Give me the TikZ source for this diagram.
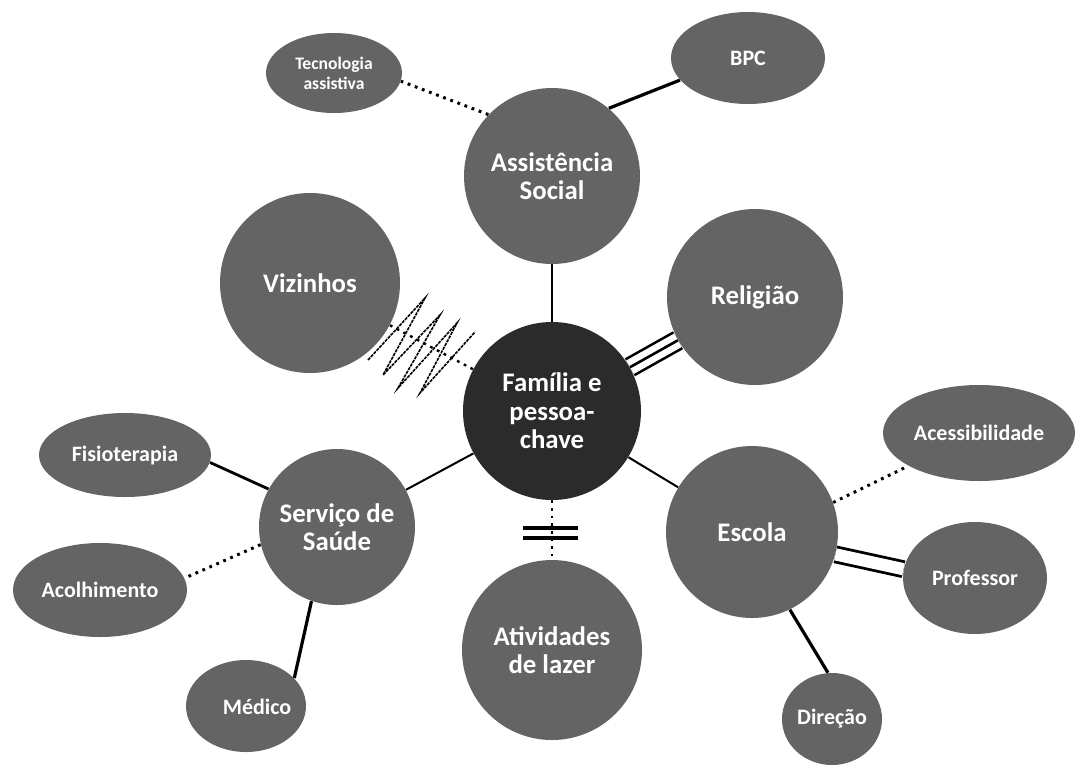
\documentclass[tikz,border=0pt]{standalone}
\usepackage{fontspec}
\setmainfont{Carlito}
\usetikzlibrary{shapes.geometric,backgrounds}

\definecolor{hubgray}{HTML}{2B2B2B}
\definecolor{nodegray}{HTML}{646464}

\tikzset{
  bubble/.style={circle, fill=nodegray, draw=none, inner sep=0pt,
    text=white, align=center, font=\bfseries\fontsize{13.4}{14.2}\selectfont},
  hub/.style={bubble, fill=hubgray},
  leaf/.style={ellipse, fill=nodegray, draw=none, inner sep=0pt,
    text=white, align=center, font=\bfseries\fontsize{11}{12}\selectfont},
  strong/.style={line width=1.6pt},
  normal/.style={line width=1pt},
  weak/.style={line width=1.5pt, dash pattern=on 1.4pt off 2.4pt},
  tense/.style={line width=0.8pt, dash pattern=on 1.6pt off 0.5pt},
  bar/.style={line width=2pt},
}

\begin{document}
\begin{tikzpicture}[x=0.5pt, y=-0.5pt]
\useasboundingbox (0,0) rectangle (1076,767);

% central circle and the first ring of circles
\node[hub, minimum size=89pt] (fam) at (552,411) {Família e\\pessoa-\\chave};
\node[bubble, minimum size=88pt] (assist) at (552,176) {Assistência\\Social};
\node[bubble, minimum size=90pt] (viz) at (310,283) {Vizinhos};
\node[bubble, minimum size=88pt] (rel) at (755,297) {Religião};
\node[bubble, minimum size=78pt] (serv) at (337,527) {Serviço de\\Saúde};
\node[bubble, minimum size=86pt] (esc) at (752,532) {Escola};
\node[bubble, minimum size=90pt] (ativ) at (552,650) {Atividades\\de lazer};

% outer ellipses
\node[leaf, minimum width=68pt, minimum height=40pt,
  font=\bfseries\fontsize{8.8}{10}\selectfont] (tec) at (334,73) {Tecnologia\\assistiva};
\node[leaf, minimum width=77pt, minimum height=46pt] (bpc) at (748,58) {BPC};
\node[leaf, minimum width=86pt, minimum height=42pt] (fisio) at (125,455) {Fisioterapia};
\node[leaf, minimum width=87pt, minimum height=47pt] (acol) at (100,590) {Acolhimento};
\node[leaf, minimum width=60pt, minimum height=46pt] (med) at (246,706) {};
\node[text=white, font=\bfseries\fontsize{11}{12}\selectfont] (medtxt) at (257,707) {Médico};
\node[leaf, minimum width=96pt, minimum height=48pt] (acess) at (979,433) {Acessibilidade};
\node[leaf, minimum width=72pt, minimum height=56pt] (prof) at (975,578) {Professor};
\node[leaf, minimum width=50pt, minimum height=46pt] (dir) at (832,719) {Direção};

\begin{scope}[on background layer]
  \fill[white] (0,0) rectangle (1076,767);
  % links of the central circle
  \draw[normal] (fam) -- (assist);
  \draw[normal] (fam) -- (serv);
  \draw[normal] (fam) -- (esc);
  \draw[weak, line width=1.2pt] (fam) -- (viz);
  \draw[weak, line width=1.2pt] (fam) -- (ativ);
  \draw[line width=1.3pt, double distance=7.7pt] (fam) -- (rel);
  \draw[line width=1.3pt] (fam) -- (rel);

  % links of the first ring
  \draw[weak] (assist.136) -- (tec.-7);
  \draw[strong] (assist.50) -- (bpc.198);
  \draw[line width=1.4pt] (serv.151) -- (fisio.-5);
  \draw[weak] (serv.193) -- (acol.8);
  \draw[strong] (serv.251) -- (med.30);
  \draw[weak] (esc.20) -- (acess.205);
  \draw[line width=1.4pt, double distance=6.1pt] (esc.-15) -- (prof.173);
  \draw[strong] (esc.-64) -- (dir.95);
\end{scope}

% zigzag across the link to the neighbours
\draw[tense, line join=miter]
  (368,360) -- (425,298) -- (383,375) -- (440,315) -- (398,388)
  -- (457,323) -- (420,393) -- (475,332);

% double bar across the link to leisure
\draw[bar] (523,528) -- (578,528);
\draw[bar] (523,538) -- (578,538);
\end{tikzpicture}
\end{document}
